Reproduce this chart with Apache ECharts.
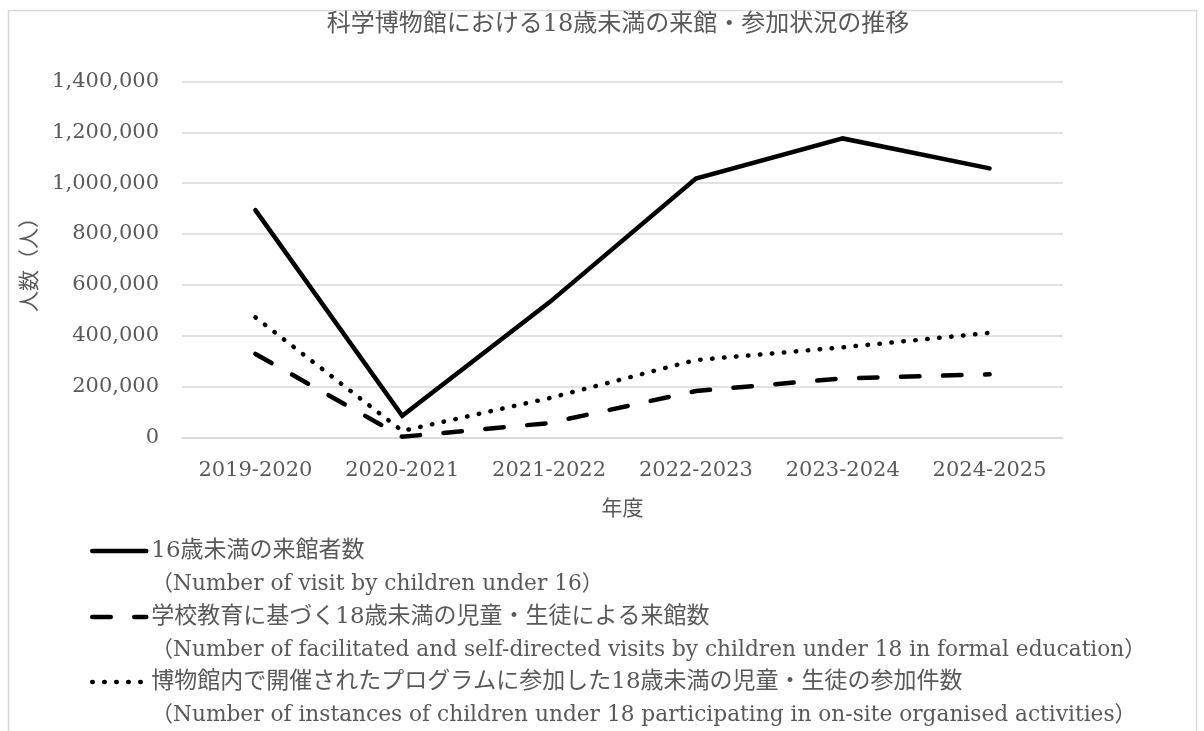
<!DOCTYPE html>
<html>
<head>
<meta charset="utf-8">
<script src="https://cdn.jsdelivr.net/npm/echarts@6/dist/echarts.min.js"></script>
<style>
  html, body { margin: 0; padding: 0; background: #ffffff; }
  #chart { width: 1204px; height: 731px; }
</style>
</head>
<body>
<div id="chart"></div>
<script>
// Fiscal years on the category axis
const categories = ['2019-2020', '2020-2021', '2021-2022', '2022-2023', '2023-2024', '2024-2025'];

// Visits by children under 16
const visitsUnder16 = [894000, 85000, 530000, 1018000, 1176000, 1058000];
// Facilitated and self-directed visits by under-18s in formal education
const schoolVisits = [328000, 2000, 56000, 182000, 232000, 248000];
// Instances of under-18s taking part in on-site organised activities
const onsiteActivities = [472000, 25000, 154000, 304000, 354000, 411000];

const seriesNames = [
  '16歳未満の来館者数',
  '学校教育に基づく18歳未満の児童・生徒による来館数',
  '博物館内で開催されたプログラムに参加した18歳未満の児童・生徒の参加件数'
];
const seriesNotes = [
  '（Number of visit by children under 16）',
  '（Number of facilitated and self-directed visits by children under 18 in formal education）',
  '（Number of instances of children under 18 participating in on-site organised activities）'
];

const chartTitle = '科学博物館における18歳未満の来館・参加状況の推移';
const xAxisName = '年度';
const yAxisName = '人数（人）';

const FONT = "'DejaVu Serif', 'Noto Sans CJK JP', serif";
const TEXT = '#595959';
const GRID = '#d9d9d9';

const lineTypes = [
  { type: 'solid', cap: 'round' },
  { type: [18.5, 23.5], cap: 'round' },
  { type: [0.5, 11.5], cap: 'round' }
];
const seriesData = [visitsUnder16, schoolVisits, onsiteActivities];
const legendTops = [507, 573, 638];

const chart = echarts.init(document.getElementById('chart'), null, { renderer: 'canvas' });

chart.setOption({
  animation: false,
  backgroundColor: '#ffffff',
  title: {
    text: chartTitle,
    left: 613,
    textAlign: 'center',
    top: 8,
    textStyle: { color: TEXT, fontFamily: FONT, fontSize: 24, fontWeight: 'normal' }
  },
  graphic: [{
    type: 'rect',
    shape: { x: 8.5, y: 10.5, width: 1188, height: 760 },
    style: { fill: 'none', stroke: GRID, lineWidth: 1.5 },
    silent: true
  }],
  grid: { left: 182, right: 141, top: 81.5, bottom: 293.7, containLabel: false },
  xAxis: {
    type: 'category',
    data: categories,
    boundaryGap: true,
    name: xAxisName,
    nameLocation: 'middle',
    nameGap: 62,
    nameTextStyle: { color: TEXT, fontFamily: FONT, fontSize: 21 },
    axisLine: { show: true, lineStyle: { color: GRID, width: 1.5 } },
    axisTick: { show: false },
    axisLabel: { color: TEXT, fontFamily: FONT, fontSize: 21, margin: 23, interval: 0 }
  },
  yAxis: {
    type: 'value',
    min: 0,
    max: 1400000,
    interval: 200000,
    name: yAxisName,
    nameLocation: 'middle',
    nameRotate: 90,
    nameGap: 135,
    nameTextStyle: { color: TEXT, fontFamily: FONT, fontSize: 21 },
    axisLine: { show: false },
    axisTick: { show: false },
    splitLine: { lineStyle: { color: GRID, width: 1.5 } },
    axisLabel: {
      color: TEXT, fontFamily: FONT, fontSize: 21, margin: 23,
      formatter: v => v.toLocaleString('en-US')
    }
  },
  legend: seriesNames.map((name, i) => ({
    data: [name],
    orient: 'vertical',
    left: 90,
    top: legendTops[i],
    padding: 0,
    itemWidth: 54,
    itemHeight: 14,
    itemGap: 0,
    selectedMode: false,
    lineStyle: { width: 4.5 },
    itemStyle: { opacity: 0 },
    formatter: n => '{s| }\n{j|' + n + '}\n{e|' + seriesNotes[i] + '}',
    textStyle: {
      color: TEXT,
      fontFamily: FONT,
      fontSize: 22,
      rich: {
        s: { fontSize: 22, lineHeight: 33, fontFamily: FONT, color: TEXT },
        j: { fontSize: 23, lineHeight: 33, fontFamily: FONT, color: TEXT },
        e: { fontSize: 21.7, lineHeight: 33, fontFamily: FONT, color: TEXT }
      }
    }
  })),
  series: seriesNames.map((name, i) => ({
    name: name,
    type: 'line',
    data: seriesData[i],
    symbol: 'none',
    connectNulls: true,
    lineStyle: {
      color: '#000000',
      width: 4.5,
      type: lineTypes[i].type,
      cap: lineTypes[i].cap,
      join: 'miter'
    },
    itemStyle: { color: '#000000' }
  }))
});
</script>
</body>
</html>
